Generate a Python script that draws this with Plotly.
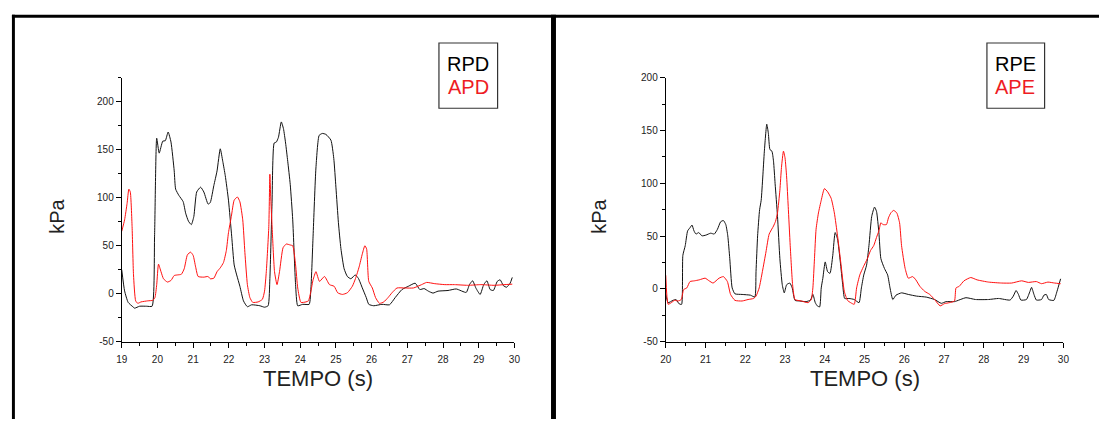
import plotly.graph_objects as go

# ---- Right foot (RPD / APD), time in s, pressure in kPa ----
t_rpd = [19.0, 19.08, 19.18, 19.31, 19.36, 19.5, 19.7, 19.85, 19.92, 19.98, 20.05, 20.15, 20.22,
         20.30, 20.38, 20.47, 20.51, 20.6, 20.72, 20.79, 20.87, 20.95, 21.02, 21.1, 21.21, 21.3,
         21.42, 21.48, 21.58, 21.67, 21.76, 21.83, 21.9, 21.99, 22.08, 22.15, 22.22, 22.31, 22.41,
         22.52, 22.64, 22.87, 23.0, 23.1, 23.15, 23.21, 23.27, 23.33, 23.39, 23.47, 23.53, 23.59,
         23.65, 23.72, 23.79, 23.87, 23.93, 24.07, 24.25, 24.30, 24.36, 24.44, 24.53, 24.62, 24.72,
         24.86, 24.94, 25.0, 25.07, 25.14, 25.23, 25.32, 25.42, 25.54, 25.63, 25.74, 25.85, 25.92,
         26.06, 26.29, 26.5, 26.66, 26.85, 27.03, 27.22, 27.35, 27.47, 27.59, 27.72, 27.86, 28.14,
         28.37, 28.65, 28.74, 28.83, 28.92, 29.04, 29.14, 29.23, 29.32, 29.41, 29.52, 29.6, 29.69,
         29.78, 29.88, 29.94]
v_rpd = [25, 3, -9, -13.5, -15, -13, -13, -13, 60, 162, 146.5, 159, 159.4,
         168.5, 158, 128, 109, 102.5, 96, 84, 75.5, 72, 80.5, 106, 111, 106,
         93.4, 95, 112.7, 128, 151, 138, 123, 97.5, 60, 30, 19.6, 7.8, -7.4,
         -13.5, -11.5, -12.5, -14, -12.5, 16, 94, 157, 158, 163, 179, 172, 157,
         138, 114, 77, 9.5, -12.5, -11, -11, 6, 60, 131, 165, 167, 166,
         160, 141, 111, 74, 47, 26, 18, 15.6, 19.6, 16, 6, -4, -11,
         -12.5, -11, -11.5, -4, 4.4, 7.8, 11, 4.4, 5.4, 2.7, 0.7, 2.7, 3.4,
         5, 1.4, 9.5, 13.5, 6, -0.7, 9.5, 13.5, 4.4, 3.4, 12.9, 14.5, 8.5,
         6.8, 11, 17]

t_apd = [19.0, 19.08, 19.15, 19.2, 19.24, 19.29, 19.33, 19.39, 19.45, 19.54, 19.73, 19.87, 19.93,
         19.98, 20.03, 20.1, 20.17, 20.28, 20.38, 20.47, 20.56, 20.67, 20.75, 20.84, 20.93, 21.0,
         21.07, 21.14, 21.3, 21.42, 21.48, 21.58, 21.67, 21.76, 21.85, 21.93, 21.99, 22.07, 22.15,
         22.24, 22.31, 22.39, 22.45, 22.52, 22.59, 22.67, 22.82, 22.94, 23.0, 23.05, 23.12, 23.15,
         23.17, 23.22, 23.28, 23.35, 23.42, 23.52, 23.61, 23.72, 23.79, 23.87, 23.93, 24.02, 24.16,
         24.23, 24.3, 24.36, 24.44, 24.54, 24.68, 24.82, 24.95, 25.05, 25.18, 25.32, 25.46, 25.55,
         25.65, 25.74, 25.81, 25.86, 25.92, 26.02, 26.11, 26.22, 26.34, 26.46, 26.57, 26.71, 26.94,
         27.17, 27.4, 27.54, 27.77, 28.05, 28.32, 28.69, 29.06, 29.43, 29.71, 29.94]
v_apd = [65, 77, 94, 109, 106, 70, 19.6, -7.4, -10, -8.5, -7.4, -6.8, -4,
         9.5, 30.8, 23, 15.6, 12.2, 13.9, 19, 19.6, 20.3, 26, 40.6, 43.3, 40,
         28, 18, 17.3, 18, 15.6, 16.2, 23, 27, 32.5, 45, 63.6, 80.5, 97.5,
         100.8, 95.8, 77, 43, 9.5, -4, -9, -8.5, -5.8, 2.7, 23, 70, 124.5,
         104, 63.6, 23, 9.5, 23, 48, 51.8, 50.8, 50, 30, 6, -9, -8.5,
         -7.4, 2.7, 14.5, 23, 12.9, 18, 9.5, 7.8, 1, -0.7, 1, 7.8, 16,
         28, 41.6, 50, 46.7, 12.9, 6, -4, -10, -8.5, -4, 1, 6, 6,
         6, 9.5, 11.8, 10.5, 9.5, 9.5, 8.8, 9.5, 8.8, 9.5, 10]

# ---- Left foot (RPE / APE) ----
t_rpe = [20.0, 20.06, 20.18, 20.26, 20.31, 20.36, 20.4, 20.43, 20.49, 20.55, 20.61, 20.66, 20.71,
         20.76, 20.83, 20.91, 21.01, 21.13, 21.22, 21.3, 21.38, 21.45, 21.51, 21.56, 21.61, 21.67,
         21.74, 21.92, 22.13, 22.24, 22.27, 22.31, 22.36, 22.4, 22.44, 22.48, 22.54, 22.58, 22.62,
         22.67, 22.71, 22.75, 22.81, 22.87, 22.93, 22.98, 23.04, 23.12, 23.18, 23.25, 23.37, 23.53,
         23.64, 23.7, 23.76, 23.81, 23.87, 23.91, 23.95, 24.01, 24.07, 24.13, 24.2, 24.26, 24.32,
         24.39, 24.45, 24.5, 24.61, 24.74, 24.86, 24.92, 24.98, 25.05, 25.11, 25.18, 25.25, 25.3,
         25.36, 25.41, 25.5, 25.58, 25.64, 25.71, 25.79, 25.93, 26.1, 26.31, 26.55, 26.76, 26.93,
         27.05, 27.26, 27.55, 27.79, 28.12, 28.37, 28.66, 28.74, 28.81, 28.87, 28.93, 29.07, 29.16,
         29.2, 29.26, 29.32, 29.45, 29.51, 29.57, 29.63, 29.76, 29.84, 29.93]
v_rpe = [-5, -13, -10.8, -10, -13, -14.5, -14.5, 31.8, 41, 55, 58, 60.5, 55,
         52, 53.4, 50.3, 51, 52.8, 52, 56.5, 63.6, 64.8, 61, 50.3, 28.7, 1,
         -4.6, -5.2, -5.9, -7.7, 16.4, 50.3, 75, 84, 106, 130.5, 156, 147.5, 132,
         130.5, 121, 99.7, 68.8, 28.7, 4, -3.7, 4, 5.6, 1, -10.8, -11.4, -12,
         -10.5, -5.2, -13, -16, -17, 1, 10, 25.6, 16.4, 14.8, 31.8, 53.4, 47.2,
         25.6, 4, -9, -9, -10, -13, 1, 13.3, 22.5, 41, 68.8, 77.5, 73.5,
         53.4, 28.7, 19.4, 13.3, 1, -10, -5.9, -3.7, -5.2, -6.8, -7.7, -10, -13.6,
         -12, -12, -8.3, -10, -10, -9, -10.5, -6.8, -1.5, -5.2, -10.5, -10, -2.2,
         1.5, -5.2, -10.5, -10, -5.9, -5.2, -10, -10.8, -2.2, 9.6]

t_ape = [20.0, 20.06, 20.14, 20.22, 20.31, 20.39, 20.45, 20.53, 20.61, 20.72, 20.84, 20.99, 21.09,
         21.19, 21.34, 21.45, 21.55, 21.63, 21.74, 21.92, 22.07, 22.21, 22.27, 22.35, 22.43, 22.52,
         22.6, 22.71, 22.76, 22.81, 22.87, 22.91, 22.96, 23.0, 23.04, 23.08, 23.13, 23.19, 23.25,
         23.41, 23.58, 23.66, 23.7, 23.74, 23.78, 23.84, 23.91, 23.99, 24.07, 24.16, 24.24, 24.32,
         24.4, 24.49, 24.57, 24.65, 24.74, 24.8, 24.88, 24.97, 25.07, 25.15, 25.23, 25.3, 25.36,
         25.41, 25.46, 25.55, 25.6, 25.66, 25.73, 25.81, 25.88, 25.93, 26.02, 26.1, 26.21, 26.29,
         26.39, 26.51, 26.64, 26.76, 26.9, 27.01, 27.13, 27.26, 27.3, 27.38, 27.5, 27.67, 27.83,
         28.12, 28.45, 28.7, 28.95, 29.12, 29.32, 29.45, 29.61, 29.78, 29.93]
v_ape = [13, -14.5, -13, -10.8, -11.4, -10, -0.6, 1, 7, 7.7, 8.6, 10.2, 7.7,
         5.6, 10.2, 11.7, 7, -5.2, -10.8, -11.4, -10, -9, -6.8, 1, 16.4, 35,
         51.9, 59.6, 64, 72, 93.5, 115, 130.5, 124, 106, 78, 41, 4, -10,
         -11.4, -13, -10, 1, 28.7, 56.5, 72, 84, 95, 92, 85.8, 72, 50.3,
         25.6, -2.2, -10.8, -13, -14.5, 1, 13.3, 21, 28.7, 36.4, 41, 48.8, 55,
         62.7, 61, 61, 67.3, 72, 74.4, 72, 62.7, 41, 19.4, 10.2, 11.7, 8.6,
         2.5, -2.2, -5.2, -10, -16, -13.9, -13, -11.4, 1, 2.5, 7.7, 10.8, 8.6,
         6.5, 5.6, 5.6, 7.7, 6.2, 7, 5, 6.5, 5.6, 5]

# Pressure tick values and their labels (plain hyphen for negatives)
y_ticks = [-50, 0, 50, 100, 150, 200]
y_tick_labels = ["-50", "0", "50", "100", "150", "200"]

W, H = 1105, 425
BLACK = "#111111"
RED = "#ff1010"
FONT = "Liberation Sans, Arial, sans-serif"


def px(x):
    return x / W


def py(y):
    return 1 - y / H


line_kw = dict(width=1, shape="spline", smoothing=0.5)

fig = go.Figure()
fig.add_trace(go.Scatter(x=t_rpd, y=v_rpd, mode="lines", line=dict(color=BLACK, **line_kw),
                         xaxis="x", yaxis="y", name="RPD"))
fig.add_trace(go.Scatter(x=t_apd, y=v_apd, mode="lines", line=dict(color=RED, **line_kw),
                         xaxis="x", yaxis="y", name="APD"))
fig.add_trace(go.Scatter(x=t_rpe, y=v_rpe, mode="lines", line=dict(color=BLACK, **line_kw),
                         xaxis="x2", yaxis="y2", name="RPE"))
fig.add_trace(go.Scatter(x=t_ape, y=v_ape, mode="lines", line=dict(color=RED, **line_kw),
                         xaxis="x2", yaxis="y2", name="APE"))

axis_common = dict(showline=True, linecolor="black", linewidth=1, ticks="outside",
                   ticklen=5, tickwidth=1, tickcolor="black", showgrid=False,
                   zeroline=False, mirror=False,
                   tickfont=dict(family=FONT, size=10, color="#222"))

ydom = [py(345.7), py(74.7)]
fig.update_layout(
    width=W, height=H, margin=dict(l=0, r=0, t=0, b=0),
    paper_bgcolor="white", plot_bgcolor="white", showlegend=False,
    xaxis=dict(domain=[px(117), px(514)], range=[19, 30], anchor="y", dtick=1, tick0=19,
               ticklabelstandoff=3,
               minor=dict(ticks="outside", ticklen=3, dtick=0.5, tick0=19, tickcolor="black"),
               **axis_common),
    yaxis=dict(domain=ydom, range=[-50, 225], anchor="x",
               tickmode="array", tickvals=y_ticks, ticktext=y_tick_labels,
               minor=dict(ticks="outside", ticklen=3, dtick=25, tick0=0, tickcolor="black"),
               **axis_common),
    xaxis2=dict(domain=[px(667), px(1069)], range=[20, 30], anchor="y2", dtick=1, tick0=20,
                ticklabelstandoff=3,
                minor=dict(ticks="outside", ticklen=3, dtick=0.5, tick0=20, tickcolor="black"),
                **axis_common),
    yaxis2=dict(domain=ydom, range=[-50, 200], anchor="x2",
                tickmode="array", tickvals=y_ticks, ticktext=y_tick_labels,
                minor=dict(ticks="outside", ticklen=3, dtick=25, tick0=0, tickcolor="black"),
                **axis_common),
)

# Frame around the two panels
frame = [(6, 10, 1105, 13), (6, 10, 9, 425), (551, 10, 556, 425)]
shapes = []
for x0, y0, x1, y1 in frame:
    shapes.append(dict(type="rect", xref="paper", yref="paper",
                       x0=px(x0), x1=px(x1), y0=py(y1), y1=py(y0),
                       fillcolor="black", line=dict(width=0)))

# Legend boxes
for x0, x1 in [(437.7, 497), (991.7, 1050)]:
    shapes.append(dict(type="rect", xref="paper", yref="paper",
                       x0=px(x0), x1=px(x1), y0=py(106), y1=py(39),
                       fillcolor="white", line=dict(color="#333", width=1.2)))
fig.update_layout(shapes=shapes)

ann = []
for cx, top, bottom in [(467.3, "RPD", "APD"), (1020.5, "RPE", "APE")]:
    ann.append(dict(x=px(cx), y=py(60.5), xref="paper", yref="paper", text=top,
                    showarrow=False, xanchor="center", yanchor="middle",
                    font=dict(family=FONT, size=20, color="black")))
    ann.append(dict(x=px(cx), y=py(84.5), xref="paper", yref="paper", text=bottom,
                    showarrow=False, xanchor="center", yanchor="middle",
                    font=dict(family=FONT, size=20, color="#ee1c24")))

for cx, ky in [(315.5, 52), (868, 600)]:
    ann.append(dict(x=px(cx), y=py(383), xref="paper", yref="paper", text="TEMPO (s)",
                    showarrow=False, xanchor="center", yanchor="middle",
                    font=dict(family=FONT, size=22, color="#222")))
    ann.append(dict(x=px(ky), y=py(217), xref="paper", yref="paper", text="kPa",
                    showarrow=False, xanchor="center", yanchor="middle", textangle=-90,
                    font=dict(family=FONT, size=20, color="#222")))
fig.update_layout(annotations=ann)

fig.write_html("out.html")
